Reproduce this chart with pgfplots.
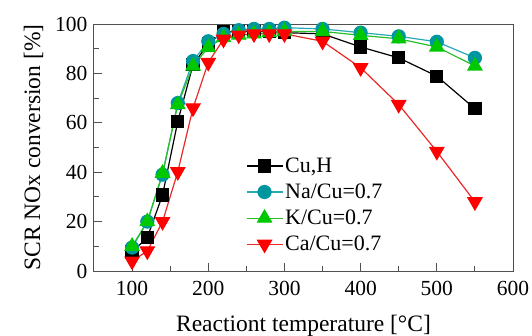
\documentclass[border=0pt]{standalone}
\usepackage{fontspec}
\setmainfont{Liberation Serif}
\usepackage{pgfplots}
\pgfplotsset{compat=1.18}

\definecolor{naline}{RGB}{40,170,180}
\definecolor{namark}{RGB}{0,150,160}
\definecolor{kline}{RGB}{40,190,40}
\definecolor{kmark}{RGB}{0,200,0}
\definecolor{caline}{RGB}{235,40,40}
\definecolor{camark}{RGB}{255,0,0}
\definecolor{frame}{RGB}{80,80,80}

\begin{document}
\begin{tikzpicture}
\begin{axis}[
  at={(0pt,0pt)}, anchor=south west,
  scale only axis, width=419pt, height=247pt,
  xmin=50, xmax=600, ymin=0, ymax=100,
  xtick={100,200,...,600}, minor x tick num=1,
  ytick={0,20,...,100}, minor y tick num=1,
  tick align=inside, xtick pos=left, ytick pos=left,
  major tick length=8pt, minor tick length=5pt,
  tick style={frame, line width=1pt},
  axis line style={frame, line width=1pt},
  tick label style={font=\fontsize{21.5}{26}\selectfont},
  xticklabel style={yshift=-7pt},
  yticklabel style={xshift=-3pt},
  label style={font=\fontsize{23.5}{28}\selectfont},
  /pgf/number format/assume math mode=true,
  xlabel={Reactiont temperature [°C]},
  xlabel style={yshift=-12pt},
  ylabel={SCR NOx conversion [\%]},
  ylabel style={yshift=5pt},
  legend style={draw=none, fill=none, at={(rel axis cs:0.355,0.475)}, anchor=north west,
    row sep=6pt, font=\fontsize{22}{26}\selectfont},
  legend cell align=left,
  legend image code/.code={\draw[mark repeat=2,mark phase=2] plot coordinates {(0pt,0pt) (18pt,0pt) (36pt,0pt)};},
  every axis plot/.append style={line width=1.2pt},
]
\addplot[black, mark=square*, mark size=6pt, mark options={fill=black}] coordinates {
 (100,7.7)(120,13.6)(140,30.8)(160,60.6)(180,83.5)(200,92)(220,96.8)(240,97)(260,97)(280,97)(300,96.5)(350,96)(400,90.7)(450,86.3)(500,78.9)(550,65.7)};
\addlegendentry{Cu,H}
\addplot[naline, mark=*, mark size=6.5pt, mark options={fill=namark, draw=namark}] coordinates {
 (100,9.5)(120,20)(140,39)(160,68)(180,85)(200,93)(220,96)(240,97.5)(260,98)(280,98)(300,98.5)(350,98)(400,96.5)(450,95)(500,92.8)(550,86.3)};
\addlegendentry{Na/Cu=0.7}
\addplot[kline, mark=triangle*, mark size=8pt, mark options={fill=kmark, draw=kmark}] coordinates {
 (100,10)(120,20)(140,39.6)(160,67.4)(180,83)(200,90.5)(220,94.5)(240,95.5)(260,96)(280,96.5)(300,97)(350,97)(400,95.4)(450,94)(500,90.7)(550,83)};
\addlegendentry{K/Cu=0.7}
\addplot[caline, mark=triangle*, mark size=8pt, mark options={fill=camark, draw=camark, rotate=180}] coordinates {
 (100,4)(120,8.1)(140,20)(160,40.2)(180,66)(200,84.4)(220,93.8)(240,95.5)(260,96)(280,96)(300,96)(350,93)(400,82.3)(450,67.4)(500,48.4)(550,28)};
\addlegendentry{Ca/Cu=0.7}
\end{axis}
\pgfresetboundingbox
\path[use as bounding box] (-94pt,-64pt) rectangle (438pt,271pt);
\end{tikzpicture}
\end{document}
